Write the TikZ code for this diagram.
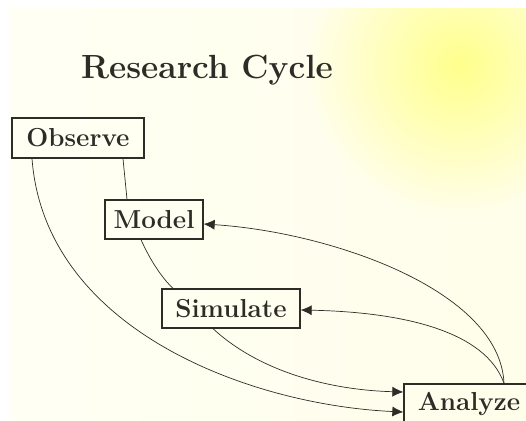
\documentclass[tikz,border=0pt]{standalone}
\usetikzlibrary{arrows.meta}
\definecolor{bgcream}{RGB}{255,254,234}
\definecolor{bgleft}{RGB}{255,255,244}
\definecolor{sun}{RGB}{255,255,140}
\definecolor{ink}{RGB}{45,45,40}
\tikzset{
  stagebox/.style={draw=ink, line width=1.3pt, text=ink,
    font=\fontsize{26}{30}\selectfont\bfseries, inner sep=0pt, anchor=center},
  link/.style={draw=ink, line width=0.7pt},
  arrowlink/.style={link, -{Latex[length=11pt,width=10pt]}},
}
\begin{document}
\begin{tikzpicture}[x=1pt,y=-1pt]
\useasboundingbox (0,0) rectangle (526,420);
\clip (0,0) rectangle (526,420);
% background
\fill[white] (0,0) rectangle (526,420);
\shade[left color=bgleft, right color=bgcream] (9,9) rectangle (526,420);
\begin{scope}
\clip (9,9) rectangle (526,420);
\shade[inner color=sun, outer color=bgcream] (460,65) circle (150);
\end{scope}
% title
\node[text=ink, font=\fontsize{33.5}{38}\selectfont\bfseries] (title) at (207,70) {Research Cycle};
% stages
\node[stagebox, minimum width=132, minimum height=40] (obs) at (78,138) {Observe};
\node[stagebox, minimum width=98, minimum height=39] (mod) at (154,219.5) {Model};
\node[stagebox, minimum width=138, minimum height=39] (sim) at (231,308.5) {Simulate};
\node[stagebox, minimum width=130, minimum height=40] (ana) at (469,404) {Analyze};
% connectors
\coordinate (obsL) at ([xshift=-46]obs.south);
\coordinate (obsR) at ([xshift=45]obs.south);
\coordinate (modT) at ([xshift=-27]mod.north);
\coordinate (modB) at ([xshift=-13]mod.south);
\coordinate (simT) at ([xshift=-58]sim.north);
\coordinate (simB) at ([xshift=-18]sim.south);
\coordinate (simR) at ([yshift=-1.5]sim.east);
\coordinate (modR) at ([yshift=-4.5]mod.east);
\coordinate (anaT) at ([xshift=35]ana.north);
\coordinate (anaL1) at ([yshift=12]ana.west);
\coordinate (anaL2) at ([yshift=-8]ana.west);
\draw[link] (obsR) -- (modT);
\draw[link] (modB) .. controls (150,260) and (162,278) .. (simT);
\draw[arrowlink] (obsL) .. controls (45,330) and (250,405) .. (anaL2);
\draw[arrowlink] (simB) .. controls (260,372) and (330,390) .. (anaL1);
\draw[arrowlink] (anaT) .. controls (500,290) and (330,232) .. (modR);
\draw[arrowlink] (anaT) .. controls (485,330) and (400,312) .. (simR);
\end{tikzpicture}
\end{document}
